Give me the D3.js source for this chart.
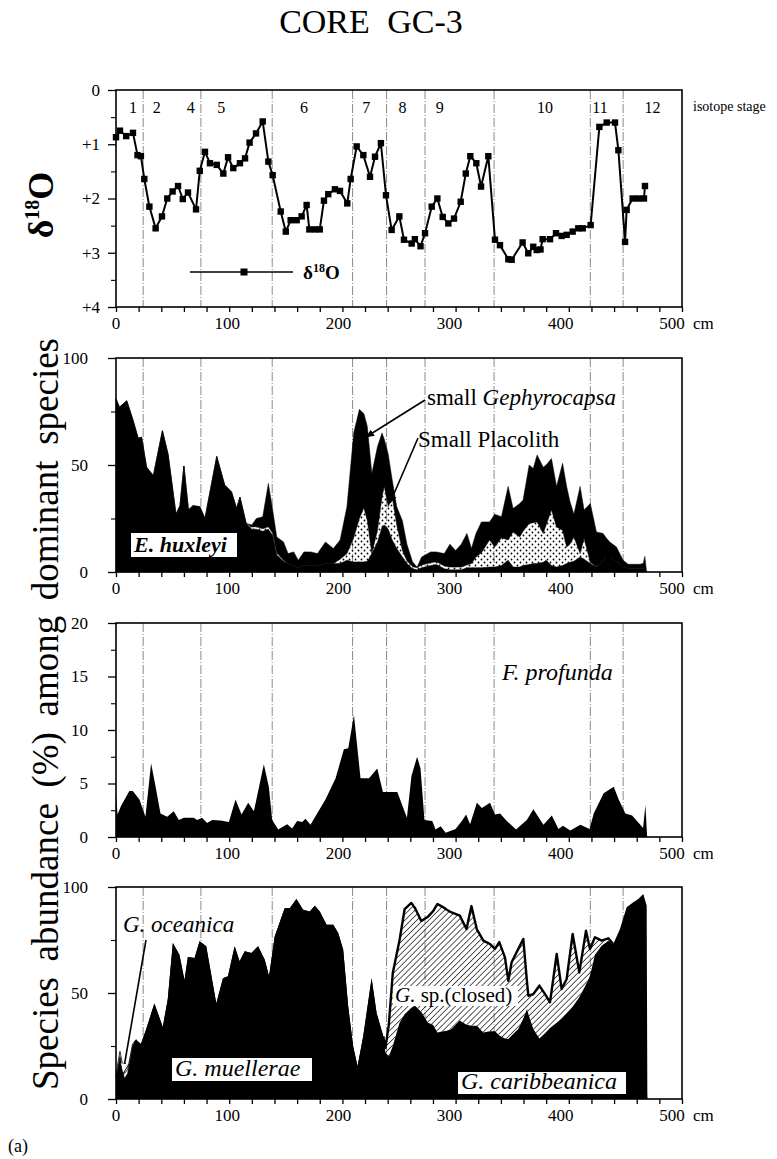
<!DOCTYPE html>
<html>
<head>
<meta charset="utf-8">
<script src="https://cdn.jsdelivr.net/npm/d3@7"></script>
<style>
  body { margin: 0; background: #fff; }
  svg text { font-family: "Liberation Serif", "Times New Roman", serif; fill: #000; }
</style>
</head>
<body>
<svg id="fig" width="777" height="1159"></svg>
<script>
// ---------- isotope stages ----------
const stageBounds = [24, 75, 138, 209, 239, 273, 334, 419, 448];
const stageLabels = ["1", "2", "4", "5", "6", "7", "8", "9", "10", "11", "12"];
const stageLabelDepth = [15, 36, 66, 93, 166, 221, 253, 286, 379, 427.5, 474];

// ---------- x axis ----------
const depthTicks = [0, 100, 200, 300, 400, 500];

// ---------- oxygen isotope record ----------
const d18oDepth = [
  0, 3.5, 9, 15, 19, 22, 25, 29.5, 35, 40.6,
  45.3, 50, 54.8, 59, 63.6, 70.7, 74, 78.6, 83, 89,
  94.8, 99, 103.6, 109.5, 114, 118, 123.7, 129.6, 134.6, 138.4,
  145.5, 150, 154.3, 159.6, 164, 168.4, 170.8, 175.8, 180, 183.7,
  187.5, 193.4, 197.9, 204.3, 207.3, 212.6, 218.5, 224.4, 228.8, 234,
  238.5, 243.5, 250.3, 254.4, 261.2, 264, 269, 273, 278.9, 283.9,
  288.6, 293.6, 298.6, 304.5, 309, 313, 318.3, 322.5, 328.9, 334.8,
  339.2, 346.6, 349.5, 359.2, 364.2, 368.6, 371.6, 375, 376.9, 383.4,
  388.7, 393.7, 398.1, 403.4, 408.4, 412.3, 419.3, 427, 433.5, 440.8,
  443.8, 449.7, 451.1, 456.4, 461.4, 466.4, 467.3
];
const d18oValue = [
  0.87, 0.75, 0.85, 0.79, 1.2, 1.22, 1.64, 2.15, 2.55, 2.33,
  2.0, 1.87, 1.77, 2.01, 1.89, 2.2, 1.49, 1.14, 1.35, 1.38,
  1.54, 1.24, 1.44, 1.35, 1.26, 0.97, 0.8, 0.58, 1.32, 1.57,
  2.24, 2.61, 2.4, 2.4, 2.33, 2.12, 2.57, 2.57, 2.57, 2.04,
  1.92, 1.83, 1.86, 2.09, 1.64, 1.04, 1.2, 1.6, 1.23, 0.98,
  1.94, 2.58, 2.33, 2.76, 2.83, 2.75, 2.88, 2.64, 2.15, 2.0,
  2.34, 2.46, 2.37, 2.06, 1.54, 1.22, 1.35, 1.78, 1.22, 2.76,
  2.86, 3.12, 3.13, 2.81, 3.01, 2.89, 2.95, 2.94, 2.75, 2.75,
  2.64, 2.69, 2.67, 2.61, 2.55, 2.55, 2.49, 0.68, 0.6, 0.6,
  1.11, 2.8, 2.21, 2.0, 2.0, 2.0, 1.77
];

// ---------- E. huxleyi / small Placolith / small Gephyrocapsa (%) ----------
const smallDepth = [
  0, 3, 9.5, 15, 19.6, 22.6, 27, 33, 41, 46,
  53, 56.5, 60, 64, 68, 74, 78.6, 89, 96, 102,
  106.5, 109.5, 115, 120, 124, 129.6, 134.6, 138.4, 142, 148,
  152, 157, 161, 166, 172, 178, 185, 192, 198, 204,
  210, 215, 219, 222, 226, 231, 235, 237, 240.5, 244,
  248, 253, 257, 262, 266, 270, 278, 283, 290, 295,
  300, 305, 310, 314, 318, 322.8, 330, 334.6, 340.5, 346.4,
  350.8, 356.7, 359.6, 365, 368.6, 372, 377.4, 380, 384.7, 389.2,
  394.5, 398.1, 401, 404.5, 410, 413.5, 419, 424.4, 430.3, 433,
  436.2, 442.1, 448, 452.4, 462.7, 465.7, 467.2, 468.7
];
const huxleyi = [
  81, 77, 80, 71, 62.5, 63, 49, 45, 66, 55,
  27, 31, 49.5, 29, 31, 30.5, 25, 54, 40.6, 37.5,
  29.7, 35, 22.7, 20, 20, 19, 20, 17, 8, 5,
  4, 3, 2, 3, 3, 3, 4, 4, 4, 5.5,
  4.7, 4.7, 4.7, 5, 8.6, 14, 21, 22, 20, 15,
  11, 7, 4, 1.5, 1, 2, 3, 3.5, 1.5, 1,
  1, 1, 2, 2, 2, 2, 2.3, 2.3, 3, 5.5,
  2.3, 2.3, 3, 3.5, 4, 4, 4.5, 5.5, 3, 2.3,
  3, 4, 4.5, 5, 7, 6, 4, 2.3, 5, 7,
  7, 5, 2.3, 1.5, 1.5, 1.5, 1.5, 0
];
const placolith = [
  0, 0, 0, 0, 0, 0, 0, 0, 0, 0,
  0, 0, 0, 0, 0, 0, 0, 0, 0, 0,
  0, 0, 0, 1, 1.2, 1.2, 1.2, 1.2, 1, 0.5,
  0, 0, 0, 0, 0, 0, 0, 0, 2, 3.1,
  11.3, 20.3, 25.3, 19, 0, 5.5, 14, 18, 10.5, 20,
  11, 3, 1.2, 1, 1, 1.3, 1.3, 1.3, 1.3, 1.3,
  1.3, 1.3, 1.3, 2, 5, 7, 12.7, 9.4, 13, 9.5,
  16.4, 14.1, 16, 19.2, 19, 19.4, 13.5, 16.5, 26, 18.7,
  16.5, 7.7, 8.5, 11.4, 1.6, 9.6, 0.5, 0.2, 0, 0,
  0, 0, 0, 0, 0, 0, 0, 0
];
const gephyrocapsa = [
  0, 0, 0, 0, 0, 0, 0, 0, 0, 0,
  0, 0, 0, 0, 0, 0, 0, 0, 0, 0,
  0, 0, 0, 1, 3.8, 5.6, 20.2, 10.8, 7.4, 8.5,
  4.6, 6.4, 3.5, 6.4, 6.4, 5.6, 10, 7, 9, 21.9,
  49, 51, 44, 44, 37.4, 39.1, 30, 22, 24.5, 8,
  8.5, 14, 7.8, 2.2, 0.3, 3.7, 5.1, 4.6, 5.8, 10.7,
  7.7, 10.7, 14.7, 7, 11, 14.4, 8.4, 15.3, 9.8, 25,
  11, 15.6, 14.6, 27.3, 25.4, 31.3, 31, 28, 24, 19,
  31.3, 28.3, 20, 10.6, 31.4, 13.4, 27.5, 16.2, 13, 9,
  7, 6.7, 3.2, 2.1, 2.1, 2.5, 5.8, 0
];

// ---------- F. profunda (%) ----------
const profundaDepth = [
  0, 1.4, 4.4, 11.8, 14.8, 20.7, 26, 31, 35, 39.3,
  45.2, 51, 55.5, 60, 68.7, 71.7, 76, 80.5, 85, 92.3,
  99.7, 105.6, 110.9, 116.8, 121.8, 130.6, 135, 138, 143.3, 151.2,
  155.6, 160, 164.5, 167.4, 171.8, 185, 194, 201.3, 205.2, 210.2,
  216, 223.5, 230.8, 235.8, 248.5, 257, 261, 266, 269, 272.5,
  279.4, 282.3, 286.8, 291.2, 300, 305.5, 309.3, 312.8, 318.8, 323.2,
  330.4, 334.8, 339.3, 345.2, 353.4, 362.9, 368.7, 377.6, 385, 390.9,
  394.8, 401.3, 410.2, 418.4, 422, 430.8, 439.7, 444.1, 450, 455.9,
  461.8, 465.6, 467.7, 469.2
];
const profundaValue = [
  4, 2.1, 2.9, 4.3, 4.3, 3.5, 1.9, 6.9, 4.7, 2.2,
  1.9, 2.4, 1.6, 1.8, 1.8, 1.6, 1.8, 1.3, 1.6, 1.55,
  1.4, 3.5, 2.1, 3.2, 2.4, 6.8, 4.7, 1.6, 0.7, 1.2,
  0.8, 1.5, 1.4, 1.7, 1.15, 3.5, 5.5, 8.2, 8.3, 11.4,
  5.5, 5.5, 6.4, 4.2, 4.2, 1.8, 5.7, 7.5, 6.4, 1.6,
  1.5, 0.7, 1, 0.4, 0.75, 1.5, 2.1, 1.2, 3.2, 2.7,
  3.2, 2.1, 2.2, 1.5, 0.7, 1.6, 2.6, 1.15, 2, 0.75,
  1.06, 0.6, 1.15, 0.75, 2.2, 4.1, 4.7, 3.5, 2.2, 2,
  1.3, 0.84, 3.0, 0
];

// ---------- Gephyrocapsa species (%) ----------
const gephDepth = [
  0, 3.5, 7.4, 10.3, 14.7, 17.7, 22, 26.5, 33.9, 41.3,
  45.7, 50.2, 56, 60.5, 63.5, 69.4, 73.8, 79.7, 88.6, 94.5,
  98.9, 104.8, 109.2, 113.7, 119.6, 125.5, 131.4, 135.2, 140.2, 149,
  153.5, 159.4, 165.3, 171.2, 175.6, 180, 186, 191.9, 196.3, 200.7,
  205.1, 209.5, 213.4, 218.4, 225.8, 230.2, 236.1, 238, 241, 244.5,
  250.5, 255, 260.9, 264.2, 269.7, 275.6, 280, 284, 289.2, 292.2,
  296.5, 303.7, 309.6, 314, 318.8, 324.5, 330.4, 334.8, 338.6, 343.6,
  346.6, 349.5, 355.4, 359.8, 363.1, 364.3, 368.7, 374, 379, 383.4,
  389.3, 393.7, 398.1, 403.4, 409.3, 415.2, 418.7, 423.1, 429, 434.9,
  439.3, 445.2, 451.1, 457, 461.4, 465.8, 468.8, 469.4
];
const muellerae = [
  10, 20, 9.5, 12, 25, 28, 26, 32.7, 45, 34,
  46.9, 73.6, 68, 56, 67, 66.5, 74.4, 72, 45, 57,
  57.9, 72, 65, 69.7, 68.9, 72, 65.7, 57.9, 76.7, 90,
  90, 94.3, 89.3, 88.5, 91.2, 88.5, 82.2, 82.2, 78.3, 70.4,
  43.7, 24.8, 15.4, 29.6, 57, 40.6, 29.6, 20, 18, 18,
  17, 16, 16, 15, 15, 14, 14, 14, 13, 13,
  13, 12, 12, 12, 12, 12, 11, 11, 11, 11,
  11, 10, 10, 10, 10, 10, 10, 10, 9, 9,
  9, 9, 9, 9, 8, 8, 8, 8, 8, 8,
  7, 7, 7, 7, 7, 7, 6, 0
];
const caribbeanica = [
  0, 0, 0, 0, 0, 0, 0, 0, 0, 0,
  0, 0, 0, 0, 0, 0, 0, 0, 0, 0,
  0, 0, 0, 0, 0, 0, 0, 0, 0, 0,
  0, 0, 0, 0, 0, 0, 0, 0, 0, 0,
  0, 0, 0, 0, 0, 0, 0, 2, 2, 7,
  19, 24, 27, 29, 26, 22, 21, 17.4, 19, 19.2,
  20, 25, 23, 22.6, 22.6, 19.4, 21, 21, 19, 17.5,
  17.3, 20, 23, 28, 32.5, 30, 23, 18.5, 22, 24.5,
  27, 29, 31.5, 34.5, 40, 46, 50, 60, 64.3, 66.7,
  66.1, 73.2, 83.4, 85.8, 87.3, 89.7, 85.2, 0
];
const spClosed = [
  0, 0, 0, 0, 0, 0, 0, 0, 0, 0,
  0, 0, 0, 0, 0, 0, 0, 0, 0, 0,
  0, 0, 0, 0, 0, 0, 0, 0, 0, 0,
  0, 0, 0, 0, 0, 0, 0, 0, 0, 0,
  0, 0, 0, 0, 0, 0, 0, 2, 15, 34.4,
  39, 49.6, 49.5, 46, 43, 50, 53.5, 60.6, 58.4, 57.1,
  55, 49.5, 45.2, 56.4, 45.4, 43.3, 41.1, 38.8, 44, 38.3,
  27.5, 34.5, 37.8, 37.5, 12.5, 8.7, 16.5, 25, 18.5, 12.1,
  32.4, 13.9, 16.1, 34.3, 11.7, 25.4, 12.8, 8.3, 2.4, 1.1,
  0, 0, 0, 0, 0, 0, 0, 0
];
const oceanica = [
  2, 2.5, 2.5, 2, 1, 0, 0, 0, 0, 0,
  0, 0, 0, 0, 0, 0, 0, 0, 0, 0,
  0, 0, 0, 0, 0, 0, 0, 0, 0, 0,
  0, 0, 0, 0, 0, 0, 0, 0, 0, 0,
  0, 0, 0, 0, 0, 0, 0, 0, 0, 0,
  0, 0, 0, 0, 0, 0, 0, 0, 0, 0,
  0, 0, 0, 0, 0, 0, 0, 0, 0, 0,
  0, 0, 0, 0, 0, 0, 0, 0, 0, 0,
  0, 0, 0, 0, 0, 0, 0, 0, 0, 0,
  0, 0, 0, 0, 0, 0, 0, 0
];

// ---------- layout ----------
const svg = d3.select("#fig");
const left = 116, right = 682;
const x = d3.scaleLinear().domain([0, 500]).range([left, right]);

const pIso = { top: 90, bottom: 307 };
const pSmall = { top: 358, bottom: 572 };
const pProf = { top: 623, bottom: 837 };
const pGeph = { top: 887, bottom: 1099 };

const yIso = d3.scaleLinear().domain([0, 4]).range([pIso.top, pIso.bottom]);
const ySmall = d3.scaleLinear().domain([0, 100]).range([pSmall.bottom, pSmall.top]);
const yProf = d3.scaleLinear().domain([0, 20]).range([pProf.bottom, pProf.top]);
const yGeph = d3.scaleLinear().domain([0, 100]).range([pGeph.bottom, pGeph.top]);

// ---------- fill patterns ----------
const defs = svg.append("defs");
const dots = defs.append("pattern").attr("id", "dots")
  .attr("patternUnits", "userSpaceOnUse").attr("width", 6).attr("height", 6);
dots.append("circle").attr("cx", 1.5).attr("cy", 1.5).attr("r", 0.9).attr("fill", "#000");
dots.append("circle").attr("cx", 4.5).attr("cy", 4.5).attr("r", 0.9).attr("fill", "#000");

const hatch = defs.append("pattern").attr("id", "hatch")
  .attr("patternUnits", "userSpaceOnUse").attr("width", 4.2).attr("height", 4.2)
  .attr("patternTransform", "rotate(45)");
hatch.append("line").attr("x1", 0).attr("y1", 0).attr("x2", 0).attr("y2", 4.2)
  .attr("stroke", "#000").attr("stroke-width", 1.3);

const arrowBlack = defs.append("marker").attr("id", "arrowBlack")
  .attr("viewBox", "0 0 10 10").attr("refX", 9).attr("refY", 5)
  .attr("markerWidth", 9).attr("markerHeight", 9).attr("markerUnits", "userSpaceOnUse")
  .attr("orient", "auto");
arrowBlack.append("path").attr("d", "M0,1 L10,5 L0,9 Z").attr("fill", "#000");

const arrowWhite = defs.append("marker").attr("id", "arrowWhite")
  .attr("viewBox", "0 0 10 10").attr("refX", 9).attr("refY", 5)
  .attr("markerWidth", 11).attr("markerHeight", 11).attr("markerUnits", "userSpaceOnUse")
  .attr("orient", "auto");
arrowWhite.append("path").attr("d", "M0,1 L10,5 L0,9 Z")
  .attr("fill", "#fff").attr("stroke", "#000").attr("stroke-width", 0.8);

// ---------- helpers ----------
function stageLines(p) {
  svg.append("g").selectAll("line").data(stageBounds).join("line")
    .attr("x1", d => x(d)).attr("x2", d => x(d))
    .attr("y1", p.top).attr("y2", p.bottom)
    .attr("stroke", "#7d7d7d").attr("stroke-width", 0.9)
    .attr("stroke-dasharray", "9,2,1,2");
}

function frameAndAxes(p, y, major, minor, fmt, labelGap) {
  svg.append("rect").attr("x", left).attr("y", p.top)
    .attr("width", right - left).attr("height", p.bottom - p.top)
    .attr("fill", "none").attr("stroke", "#000").attr("stroke-width", 1.6);

  const ax = svg.append("g").attr("transform", `translate(0,${p.bottom})`)
    .call(d3.axisBottom(x).tickValues(d3.range(0, 501, 20)).tickSize(5).tickFormat(""));
  ax.select(".domain").remove();
  ax.selectAll("line").attr("stroke-width", 1.3);

  svg.append("g").selectAll("text").data(depthTicks).join("text")
    .attr("x", (d, i) => x(d) - 2 * i).attr("y", p.bottom + 22)
    .attr("text-anchor", "middle").attr("font-size", 17).text(d => d);
  svg.append("text").attr("x", 693).attr("y", p.bottom + 22)
    .attr("font-size", 17).text("cm");

  const ay = svg.append("g").attr("transform", `translate(${left},0)`)
    .call(d3.axisLeft(y).tickValues(major).tickSize(8).tickPadding(labelGap).tickFormat(fmt));
  ay.select(".domain").remove();
  ay.selectAll("line").attr("stroke-width", 1.3);
  ay.selectAll("text").attr("font-size", 17);
  ay.attr("font-family", null);

  const am = svg.append("g").attr("transform", `translate(${left},0)`)
    .call(d3.axisLeft(y).tickValues(minor).tickSize(5).tickFormat(""));
  am.select(".domain").remove();
  am.selectAll("line").attr("stroke-width", 1.1);
}

function labelBox(x0, y0, w, h) {
  svg.append("rect").attr("x", x0).attr("y", y0).attr("width", w).attr("height", h).attr("fill", "#fff");
}

// ---------- title ----------
svg.append("text").attr("x", 371).attr("y", 33).attr("text-anchor", "middle")
  .attr("font-size", 34).attr("word-spacing", 9).text("CORE GC-3");

// ---------- panel 1: oxygen isotopes ----------
stageLines(pIso);
const isoPts = d18oDepth.map((d, i) => ({ depth: d, value: d18oValue[i] }));
svg.append("path").datum(isoPts)
  .attr("fill", "none").attr("stroke", "#000").attr("stroke-width", 2)
  .attr("d", d3.line().x(d => x(d.depth)).y(d => yIso(d.value)));
svg.append("g").selectAll("rect").data(isoPts).join("rect")
  .attr("x", d => x(d.depth) - 3.2).attr("y", d => yIso(d.value) - 3.2)
  .attr("width", 6.4).attr("height", 6.4).attr("fill", "#000");

frameAndAxes(pIso, yIso, [0, 1, 2, 3, 4], [0.5, 1.5, 2.5, 3.5], d => d === 0 ? "0" : "+" + d, 8);

svg.append("g").selectAll("text").data(stageLabels).join("text")
  .attr("x", (d, i) => x(stageLabelDepth[i])).attr("y", 113)
  .attr("text-anchor", "middle").attr("font-size", 16).text(d => d);
svg.append("text").attr("x", 693).attr("y", 111).attr("font-size", 14).text("isotope stage");

// legend
svg.append("line").attr("x1", 190).attr("x2", 293).attr("y1", 272).attr("y2", 272)
  .attr("stroke", "#000").attr("stroke-width", 1.3);
svg.append("rect").attr("x", 240.5).attr("y", 268.5).attr("width", 7).attr("height", 7).attr("fill", "#000");
const legText = svg.append("text").attr("x", 303).attr("y", 279)
  .attr("font-size", 19).attr("font-weight", "bold");
legText.append("tspan").text("\u03B4");
legText.append("tspan").attr("font-size", 12).attr("dy", -7).text("18");
legText.append("tspan").attr("dy", 7).text("O");

// vertical axis title for the isotope panel
const isoTitle = svg.append("text")
  .attr("transform", "translate(53,205) rotate(-90)")
  .attr("text-anchor", "middle").attr("font-size", 36).attr("font-weight", "bold");
isoTitle.append("tspan").text("\u03B4");
isoTitle.append("tspan").attr("font-size", 20).attr("dy", -14).text("18");
isoTitle.append("tspan").attr("dy", 14).text("O");

// ---------- panel 2: small placoliths ----------
stageLines(pSmall);
const smallRows = smallDepth.map((d, i) => ({
  depth: d, huxleyi: huxleyi[i], placolith: placolith[i], gephyrocapsa: gephyrocapsa[i]
}));
const smallStack = d3.stack().keys(["huxleyi", "placolith", "gephyrocapsa"])(smallRows);
const smallArea = d3.area().x(d => x(d.data.depth)).y0(d => ySmall(d[0])).y1(d => ySmall(d[1]));
const smallFill = { huxleyi: "#000", placolith: "url(#dots)", gephyrocapsa: "#000" };
svg.append("g").selectAll("path").data(smallStack).join("path")
  .attr("fill", s => smallFill[s.key])
  .attr("stroke", s => s.key === "placolith" ? "none" : "#000")
  .attr("stroke-width", 0.5)
  .attr("d", smallArea);

frameAndAxes(pSmall, ySmall, [0, 50, 100], [25, 75], d => d, 20);

labelBox(131, 533, 106, 24);
svg.append("text").attr("x", 134).attr("y", 552).attr("font-size", 22)
  .attr("font-style", "italic").attr("font-weight", "bold").text("E. huxleyi");

const gLab = svg.append("text").attr("x", 427).attr("y", 405).attr("font-size", 23);
gLab.append("tspan").text("small ");
gLab.append("tspan").attr("font-style", "italic").text("Gephyrocapsa");
svg.append("text").attr("x", 418).attr("y", 447).attr("font-size", 23).text("Small Placolith");

svg.append("line").attr("x1", 425).attr("y1", 400).attr("x2", 366).attr("y2", 437)
  .attr("stroke", "#000").attr("stroke-width", 1.6).attr("marker-end", "url(#arrowBlack)");
svg.append("line").attr("x1", 418).attr("y1", 438).attr("x2", 390).attr("y2", 503)
  .attr("stroke", "#000").attr("stroke-width", 1.6).attr("marker-end", "url(#arrowBlack)");

// ---------- panel 3: F. profunda ----------
stageLines(pProf);
const profPts = profundaDepth.map((d, i) => ({ depth: d, value: profundaValue[i] }));
svg.append("path").datum(profPts).attr("fill", "#000")
  .attr("d", d3.area().x(d => x(d.depth)).y0(yProf(0)).y1(d => yProf(d.value)));

frameAndAxes(pProf, yProf, [0, 5, 10, 15, 20], [2.5, 7.5, 12.5, 17.5], d => d, 20);

svg.append("text").attr("x", 502).attr("y", 680).attr("font-size", 24)
  .attr("font-style", "italic").text("F. profunda");

// ---------- panel 4: Gephyrocapsa species ----------
stageLines(pGeph);
const gephRows = gephDepth.map((d, i) => ({
  depth: d, muellerae: muellerae[i], caribbeanica: caribbeanica[i],
  spClosed: spClosed[i], oceanica: oceanica[i]
}));
const gephStack = d3.stack().keys(["muellerae", "caribbeanica", "spClosed", "oceanica"])(gephRows);
const byKey = k => gephStack.find(s => s.key === k);

// the two solid-black species share one silhouette, filled from the baseline
svg.append("path").datum(byKey("caribbeanica")).attr("fill", "#000")
  .attr("d", d3.area().x(d => x(d.data.depth)).y0(yGeph(0)).y1(d => yGeph(d[1])));
svg.append("path").datum(byKey("muellerae")).attr("fill", "#000")
  .attr("d", d3.area().x(d => x(d.data.depth)).y0(yGeph(0)).y1(d => yGeph(d[1])));

svg.append("path").datum(byKey("spClosed")).attr("fill", "url(#hatch)")
  .attr("d", d3.area().x(d => x(d.data.depth)).y0(d => yGeph(d[0])).y1(d => yGeph(d[1])));

svg.append("path").datum(byKey("oceanica"))
  .attr("fill", "#fff").attr("stroke", "#000").attr("stroke-width", 0.8)
  .attr("d", d3.area().defined(d => d.data.depth <= 17.7)
    .x(d => x(d.data.depth)).y0(d => yGeph(d[0])).y1(d => yGeph(d[1])));

// outline along the top of G. sp. (closed)
svg.append("path").datum(byKey("spClosed"))
  .attr("fill", "none").attr("stroke", "#000").attr("stroke-width", 2.4)
  .attr("stroke-linejoin", "round")
  .attr("d", d3.line().defined(d => d.data.depth >= 236 && d.data.depth <= 440)
    .x(d => x(d.data.depth)).y(d => yGeph(d[1])));

frameAndAxes(pGeph, yGeph, [0, 50, 100], [25, 75], d => d, 20);

svg.append("text").attr("x", 123).attr("y", 932).attr("font-size", 23)
  .attr("font-style", "italic").text("G. oceanica");
svg.append("line").attr("x1", 146).attr("y1", 940).attr("x2", 123).attr("y2", 1073)
  .attr("stroke", "#000").attr("stroke-width", 1.6).attr("marker-end", "url(#arrowWhite)");

labelBox(172, 1058, 140, 23);
svg.append("text").attr("x", 175).attr("y", 1076).attr("font-size", 24)
  .attr("font-style", "italic").text("G. muellerae");

labelBox(393, 986, 125, 20);
const spLab = svg.append("text").attr("x", 395).attr("y", 1002).attr("font-size", 21);
spLab.append("tspan").attr("font-style", "italic").text("G.");
spLab.append("tspan").text(" sp.(closed)");

labelBox(458, 1072, 168, 22);
svg.append("text").attr("x", 461).attr("y", 1089).attr("font-size", 24)
  .attr("font-style", "italic").text("G. caribbeanica");

// ---------- shared y title ----------
const yTitle = svg.append("text")
  .attr("transform", "translate(58,714) rotate(-90)")
  .attr("text-anchor", "middle").attr("font-size", 37)
  .text("Species abundance (%) among dominant species");
const natural = yTitle.node().getComputedTextLength();
yTitle.attr("word-spacing", Math.max(0, (752 - natural) / 5));

svg.append("text").attr("x", 8).attr("y", 1152).attr("font-size", 18).text("(a)");
</script>
</body>
</html>
